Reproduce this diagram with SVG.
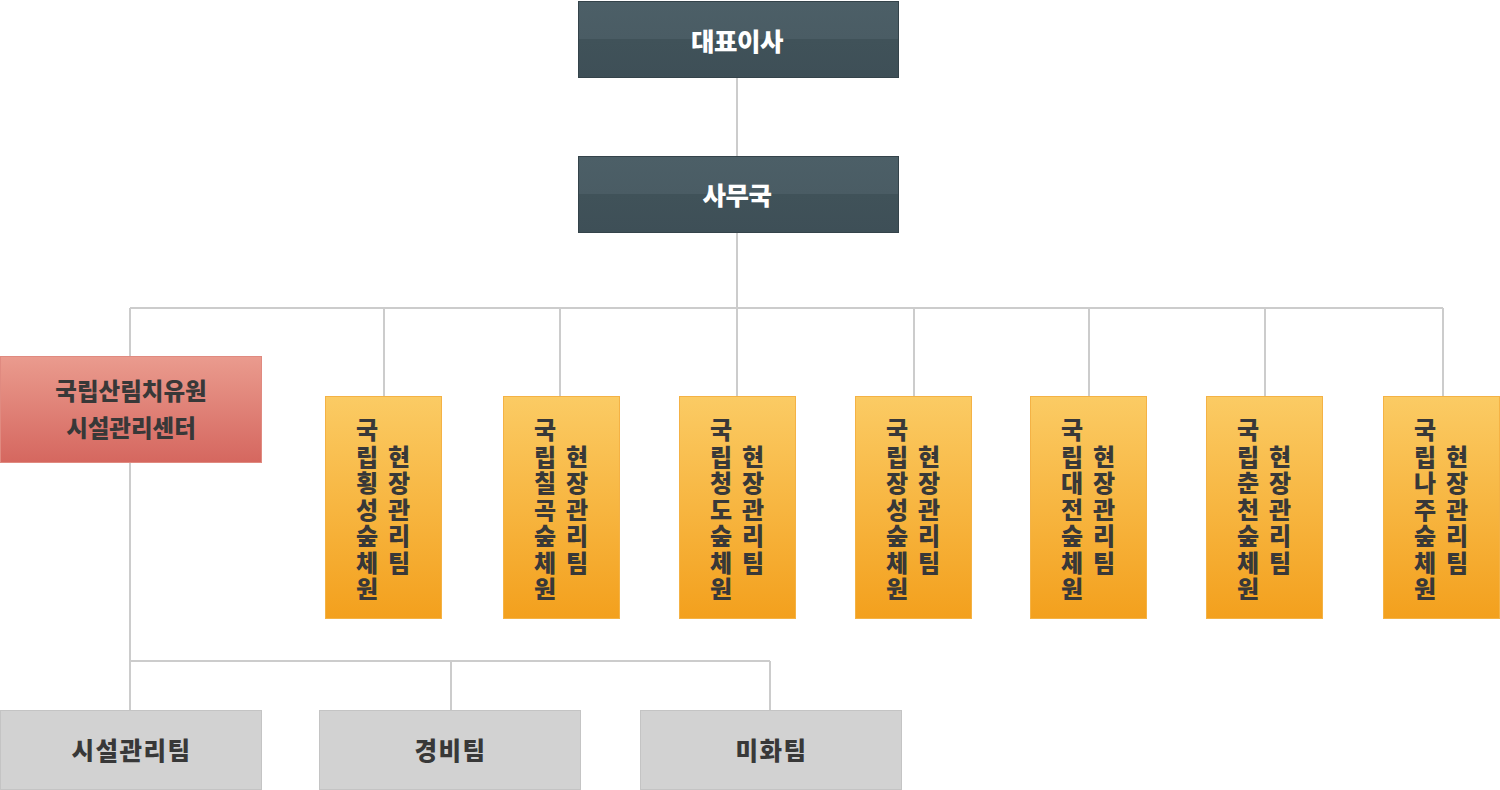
<svg xmlns="http://www.w3.org/2000/svg" width="1500" height="790" viewBox="0 0 1500 790">
<defs>
<linearGradient id="gDark" x1="0" y1="0" x2="0" y2="1">
<stop offset="0" stop-color="#4c5f67"/><stop offset="0.5" stop-color="#4a5c64"/><stop offset="0.5" stop-color="#405259"/><stop offset="1" stop-color="#3e4f57"/>
</linearGradient>
<linearGradient id="gRed" x1="0" y1="0" x2="0" y2="1">
<stop offset="0" stop-color="#ea9b8e"/><stop offset="1" stop-color="#d5675f"/>
</linearGradient>
<linearGradient id="gOrange" x1="0" y1="0" x2="0" y2="1">
<stop offset="0" stop-color="#fbcb64"/><stop offset="1" stop-color="#f3a01d"/>
</linearGradient>
<style>
.dark{fill:url(#gDark);stroke:#34434a;stroke-width:1}
.red{fill:url(#gRed);stroke:#e08a80;stroke-width:1}
.org{fill:url(#gOrange);stroke:#f4b245;stroke-width:1}
.gray{fill:#d2d2d2;stroke:#c4c4c4;stroke-width:1}
.ln{stroke:#cccccc;stroke-width:2;fill:none}
text{font-family:"Noto Sans CJK KR","Noto Sans",sans-serif;font-weight:900;text-anchor:middle;dominant-baseline:central}
.w{fill:#ffffff;font-size:25.5px;letter-spacing:-0.5px}
.t{fill:#383838;font-size:23.5px}
.b{fill:#383838;font-size:24.5px;letter-spacing:1.5px}
.v{fill:#383838;font-size:24px}
</style>
</defs>
<g id="connectors">
<path class="ln" d="M737 77V156M737 232V308M130 308H1443M130 308V356M384 308V396M560 308V396M737 308V396M914 308V396M1089 308V396M1265 308V396M1443 308V396"/>
<path class="ln" d="M130 462V710M130 661H770M451 661V710M770 661V710"/>
</g>
<g id="ceo"><rect class="dark" x="578.5" y="1.5" width="320" height="76"/><text class="w" x="737" y="39">대표이사</text></g>
<g id="office"><rect class="dark" x="578.5" y="156.5" width="320" height="76"/><text class="w" x="737" y="193">사무국</text></g>
<g id="center"><rect class="red" x="0.5" y="356.5" width="261" height="106"/><text class="t" x="131" y="390">국립산림치유원</text><text class="t" x="131" y="427">시설관리센터</text></g>
<g id="team1"><rect class="org" x="325.5" y="396.5" width="116" height="222"/>
<text class="v"><tspan x="367" y="428">국</tspan><tspan x="367" dy="26.5">립</tspan><tspan x="367" dy="26.5">횡</tspan><tspan x="367" dy="26.5">성</tspan><tspan x="367" dy="26.5">숲</tspan><tspan x="367" dy="26.5">체</tspan><tspan x="367" dy="26.5">원</tspan></text>
<text class="v"><tspan x="399" y="454.5">현</tspan><tspan x="399" dy="26.5">장</tspan><tspan x="399" dy="26.5">관</tspan><tspan x="399" dy="26.5">리</tspan><tspan x="399" dy="26.5">팀</tspan></text></g>
<g id="team2"><rect class="org" x="503.5" y="396.5" width="116" height="222"/>
<text class="v"><tspan x="545" y="428">국</tspan><tspan x="545" dy="26.5">립</tspan><tspan x="545" dy="26.5">칠</tspan><tspan x="545" dy="26.5">곡</tspan><tspan x="545" dy="26.5">숲</tspan><tspan x="545" dy="26.5">체</tspan><tspan x="545" dy="26.5">원</tspan></text>
<text class="v"><tspan x="577" y="454.5">현</tspan><tspan x="577" dy="26.5">장</tspan><tspan x="577" dy="26.5">관</tspan><tspan x="577" dy="26.5">리</tspan><tspan x="577" dy="26.5">팀</tspan></text></g>
<g id="team3"><rect class="org" x="679.5" y="396.5" width="116" height="222"/>
<text class="v"><tspan x="721" y="428">국</tspan><tspan x="721" dy="26.5">립</tspan><tspan x="721" dy="26.5">청</tspan><tspan x="721" dy="26.5">도</tspan><tspan x="721" dy="26.5">숲</tspan><tspan x="721" dy="26.5">체</tspan><tspan x="721" dy="26.5">원</tspan></text>
<text class="v"><tspan x="753" y="454.5">현</tspan><tspan x="753" dy="26.5">장</tspan><tspan x="753" dy="26.5">관</tspan><tspan x="753" dy="26.5">리</tspan><tspan x="753" dy="26.5">팀</tspan></text></g>
<g id="team4"><rect class="org" x="855.5" y="396.5" width="116" height="222"/>
<text class="v"><tspan x="897" y="428">국</tspan><tspan x="897" dy="26.5">립</tspan><tspan x="897" dy="26.5">장</tspan><tspan x="897" dy="26.5">성</tspan><tspan x="897" dy="26.5">숲</tspan><tspan x="897" dy="26.5">체</tspan><tspan x="897" dy="26.5">원</tspan></text>
<text class="v"><tspan x="929" y="454.5">현</tspan><tspan x="929" dy="26.5">장</tspan><tspan x="929" dy="26.5">관</tspan><tspan x="929" dy="26.5">리</tspan><tspan x="929" dy="26.5">팀</tspan></text></g>
<g id="team5"><rect class="org" x="1030.5" y="396.5" width="116" height="222"/>
<text class="v"><tspan x="1072" y="428">국</tspan><tspan x="1072" dy="26.5">립</tspan><tspan x="1072" dy="26.5">대</tspan><tspan x="1072" dy="26.5">전</tspan><tspan x="1072" dy="26.5">숲</tspan><tspan x="1072" dy="26.5">체</tspan><tspan x="1072" dy="26.5">원</tspan></text>
<text class="v"><tspan x="1104" y="454.5">현</tspan><tspan x="1104" dy="26.5">장</tspan><tspan x="1104" dy="26.5">관</tspan><tspan x="1104" dy="26.5">리</tspan><tspan x="1104" dy="26.5">팀</tspan></text></g>
<g id="team6"><rect class="org" x="1206.5" y="396.5" width="116" height="222"/>
<text class="v"><tspan x="1248" y="428">국</tspan><tspan x="1248" dy="26.5">립</tspan><tspan x="1248" dy="26.5">춘</tspan><tspan x="1248" dy="26.5">천</tspan><tspan x="1248" dy="26.5">숲</tspan><tspan x="1248" dy="26.5">체</tspan><tspan x="1248" dy="26.5">원</tspan></text>
<text class="v"><tspan x="1280" y="454.5">현</tspan><tspan x="1280" dy="26.5">장</tspan><tspan x="1280" dy="26.5">관</tspan><tspan x="1280" dy="26.5">리</tspan><tspan x="1280" dy="26.5">팀</tspan></text></g>
<g id="team7"><rect class="org" x="1383.5" y="396.5" width="116" height="222"/>
<text class="v"><tspan x="1425" y="428">국</tspan><tspan x="1425" dy="26.5">립</tspan><tspan x="1425" dy="26.5">나</tspan><tspan x="1425" dy="26.5">주</tspan><tspan x="1425" dy="26.5">숲</tspan><tspan x="1425" dy="26.5">체</tspan><tspan x="1425" dy="26.5">원</tspan></text>
<text class="v"><tspan x="1457" y="454.5">현</tspan><tspan x="1457" dy="26.5">장</tspan><tspan x="1457" dy="26.5">관</tspan><tspan x="1457" dy="26.5">리</tspan><tspan x="1457" dy="26.5">팀</tspan></text></g>
<g id="facility"><rect class="gray" x="0.5" y="710.5" width="261" height="79"/><text class="b" x="131.5" y="749">시설관리팀</text></g>
<g id="security"><rect class="gray" x="319.5" y="710.5" width="261" height="79"/><text class="b" x="450.5" y="749">경비팀</text></g>
<g id="beauty"><rect class="gray" x="640.5" y="710.5" width="261" height="79"/><text class="b" x="771.5" y="749">미화팀</text></g>
</svg>
